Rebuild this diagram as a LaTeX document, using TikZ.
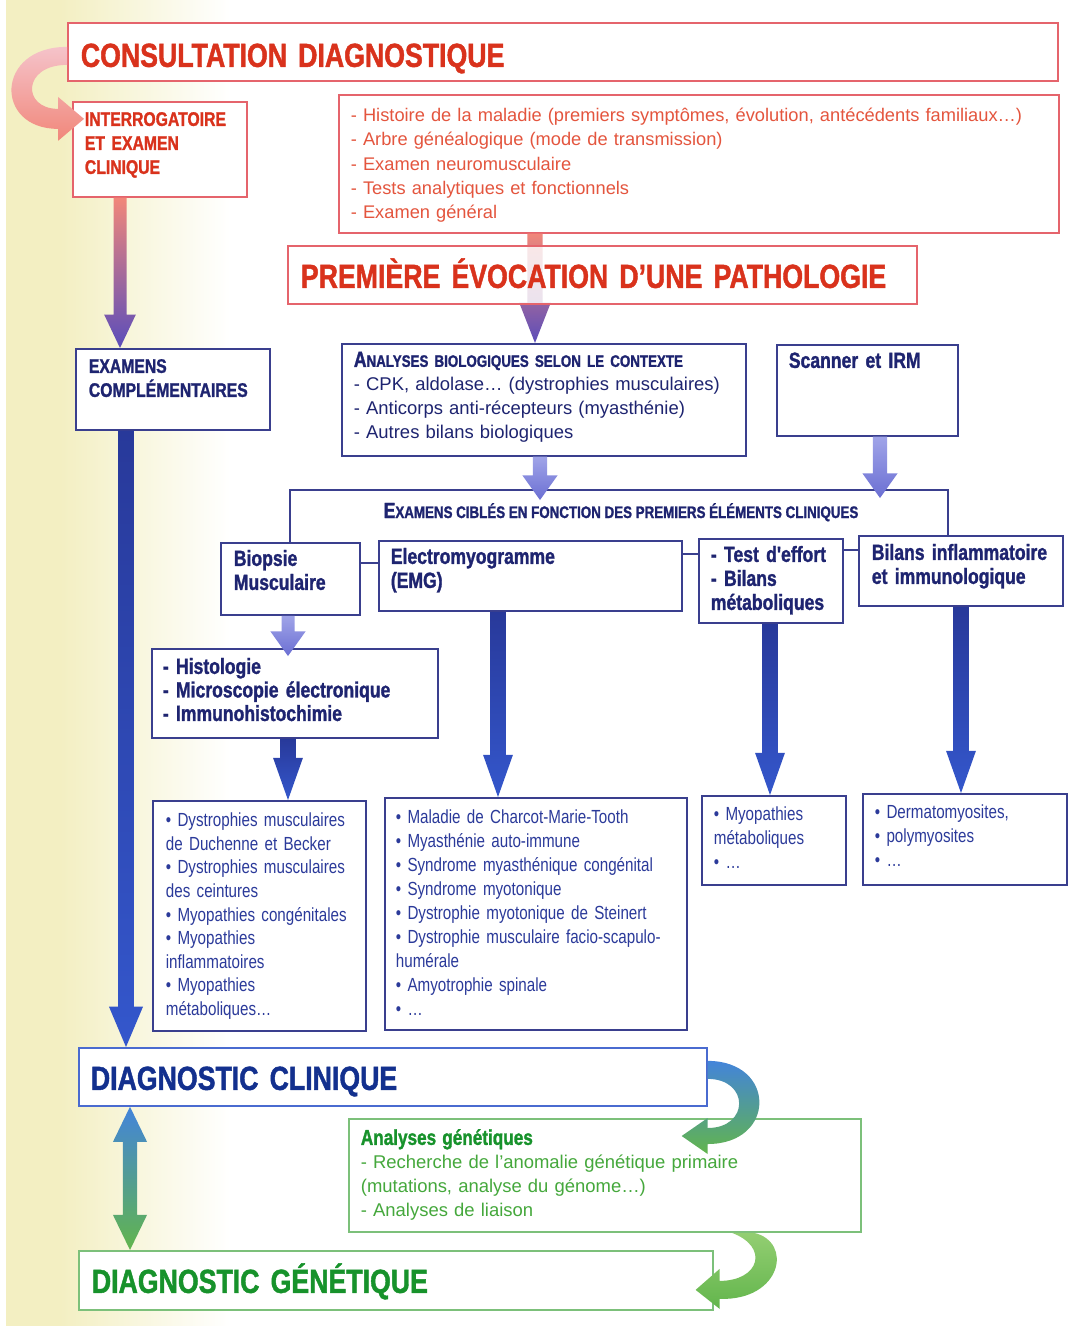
\documentclass[tikz,border=0pt]{standalone}
\usepackage{fontspec}
\setmainfont{Liberation Sans}
\newfontfamily\cond[FakeStretch=0.8]{Liberation Sans}
\newfontfamily\heavy[FakeStretch=0.8,BoldFeatures={FakeBold=1.3}]{Liberation Sans}
\usetikzlibrary{calc}

\definecolor{bgyel}{HTML}{F3EFC2}
\definecolor{redline}{HTML}{E5646C}
\definecolor{redtext}{HTML}{D9321C}
\definecolor{redlist}{HTML}{E4553E}
\definecolor{navyline}{HTML}{3A3F8E}
\definecolor{navytext}{HTML}{1E2470}
\definecolor{listblue}{HTML}{2B3A9A}
\definecolor{blueline}{HTML}{4A6BD0}
\definecolor{diagblue}{HTML}{13308E}
\definecolor{greenline}{HTML}{7CC07A}
\definecolor{greentext}{HTML}{17922B}
\definecolor{greenlist}{HTML}{45A83C}
\definecolor{salmon}{HTML}{F1877A}
\definecolor{pinklight}{HTML}{F5C3CA}
\definecolor{arrowpurple}{HTML}{5B4DBA}
\definecolor{lilac}{HTML}{A0A4E8}
\definecolor{periw}{HTML}{6B6FD3}
\definecolor{arrnavy}{HTML}{28399A}
\definecolor{arrblue}{HTML}{3457CC}
\definecolor{skyblue}{HTML}{4384DA}
\definecolor{leaf}{HTML}{62B54C}
\definecolor{leaflight}{HTML}{93CE72}

% block arrow: from, to, shaft half width, head half width, head length, top colour, bottom colour
\newcommand{\vblock}[7]{%
  \shade[top color=#6,bottom color=#7] let \p1=(#1), \p2=(#2) in
    (\x1-#3,\y1) -- (\x1+#3,\y1) -- (\x1+#3,\y2+#5) -- (\x1+#4,\y2+#5)
    -- (\x1,\y2) -- (\x1-#4,\y2+#5) -- (\x1-#3,\y2+#5) -- cycle;}
\newcommand{\petitcap}[1]{{\fontsize{9.5}{12}\selectfont #1}}

\tikzset{
  box/.style={draw, fill=white, line width=1pt, anchor=north west, inner ysep=0pt, align=left},
  redbox/.style={box, draw=redline},
  navybox/.style={box, draw=navyline},
  bluebox/.style={box, draw=blueline},
  greenbox/.style={box, draw=greenline},
  geom/.style n args={4}{text width=#1cm, inner xsep=#2cm, text height=#3cm, text depth=#4cm},
  bigtitle/.style={font=\heavy\bfseries\fontsize{19}{22}\selectfont},
  captitle/.style={font=\heavy\bfseries\fontsize{11.2}{13.66}\selectfont},
  headtxt/.style={font=\heavy\bfseries\fontsize{12.5}{13.66}\selectfont},
  plaintxt/.style={font=\fontsize{10.4}{13.7}\selectfont},
  listtxt/.style={font=\cond\fontsize{10.8}{13.4}\selectfont},
  thin/.style={draw=navyline, line width=1pt}
}

\begin{document}
\begin{tikzpicture}[x=0.02cm, y=-0.02cm]
  \useasboundingbox (0,0) rectangle (1068,1326);
  \fill[white] (0,0) rectangle (1068,1326);
  \fill[bgyel] (6,0) rectangle (60,1326);
  \shade[left color=bgyel, right color=white] (60,0) rectangle (230,1326);

  % consultation
  \node[redbox, geom={19.28}{.26}{.88}{.28}, bigtitle, text=redtext] (consult) at (67,22)
    {CONSULTATION DIAGNOSTIQUE};
  \node[redbox, geom={3.0}{.24}{.48}{1.42}, captitle, text=redtext] (interro) at (72,101)
    {INTERROGATOIRE\\ET EXAMEN\\CLINIQUE};
  \node[redbox, geom={13.92}{.24}{.54}{2.22}, plaintxt, text=redlist] (hist) at (338,94)
    {- Histoire de la maladie (premiers symptômes, évolution, antécédents familiaux…)\\
     - Arbre généalogique (mode de transmission)\\
     - Examen neuromusculaire\\
     - Tests analytiques et fonctionnels\\
     - Examen général};

  % examens
  \node[navybox, geom={3.36}{.26}{.48}{1.14}, captitle, text=navytext] (exam) at (75,348)
    {EXAMENS\\COMPLÉMENTAIRES};
  \node[navybox, geom={7.6}{.24}{.46}{1.78}, font=\fontsize{10.5}{13.66}\selectfont, text=navytext] (anal) at (341,343)
    {{\heavy\bfseries\fontsize{12.5}{13.66}\selectfont A\petitcap{NALYSES BIOLOGIQUES SELON LE CONTEXTE}}\\
     - CPK, aldolase… (dystrophies musculaires)\\
     - Anticorps anti-récepteurs (myasthénie)\\
     - Autres bilans biologiques};
  \node[navybox, geom={3.14}{.24}{.46}{1.36}, headtxt, text=navytext] (scan) at (776,344)
    {Scanner et IRM};

  % arrow through the pathology box
  \vblock{$(hist.south west)+(197,0)$}{anal.north}{4.3pt}{9pt}{23pt}{salmon}{arrowpurple}
  \node[redbox, geom={12.06}{.26}{.84}{.32}, bigtitle, text=redtext, fill opacity=0.82, text opacity=1] (prem) at (287,245)
    {PREMIÈRE ÉVOCATION D’UNE PATHOLOGIE};

  % examens cibles
  \node[navybox, geom={2.26}{.26}{.46}{.98}, headtxt, text=navytext] (biop) at (220,542)
    {Biopsie\\Musculaire};
  \node[navybox, geom={5.58}{.24}{.46}{.94}, headtxt, text=navytext] (emg) at (378,540)
    {Electromyogramme\\(EMG)};
  \node[navybox, geom={2.4}{.24}{.46}{1.22}, headtxt, text=navytext] (test) at (698,538)
    {- Test d'effort\\- Bilans\\métaboliques};
  \node[navybox, geom={3.56}{.26}{.48}{.92}, headtxt, text=navytext] (bil) at (858,535)
    {Bilans inflammatoire\\et immunologique};
  \node[headtxt, text=navytext, anchor=base, inner sep=0pt] (cible) at (621,518)
    {E\petitcap{XAMENS CIBLÉS EN FONCTION DES PREMIERS ÉLÉMENTS CLINIQUES}};
  \coordinate (bl) at (290,490);
  \coordinate (br) at (948,490);
  \draw[thin] (bl |- biop.north) -- (bl) -- (br) -- (br |- bil.north);
  \draw[thin] ($(biop.north east)+(0,21)$) -- ($(emg.north west)+(0,23)$);
  \draw[thin] ($(emg.north east)+(0,14)$) -- ($(test.north west)+(0,16)$);
  \draw[thin] ($(test.north east)+(0,12)$) -- ($(bil.north west)+(0,15)$);

  \node[navybox, geom={5.28}{.22}{.5}{1.28}, font=\heavy\bfseries\fontsize{12.5}{13.4}\selectfont, text=navytext] (histo) at (151,648)
    {- Histologie\\- Microscopie électronique\\- Immunohistochimie};

  % resultats
  \node[navybox, geom={3.74}{.26}{.52}{4.08}, listtxt, text=listblue] (dys) at (152,800)
    {• Dystrophies musculaires\\de Duchenne et Becker\\• Dystrophies musculaires\\des ceintures\\%
     • Myopathies congénitales\\• Myopathies\\inflammatoires\\• Myopathies\\métaboliques…};
  \node[navybox, geom={5.6}{.22}{.52}{4.12}, font=\cond\fontsize{10.8}{13.6}\selectfont, text=listblue] (mal) at (384,797)
    {• Maladie de Charcot-Marie-Tooth\\• Myasthénie auto-immune\\• Syndrome myasthénique congénital\\%
     • Syndrome myotonique\\• Dystrophie myotonique de Steinert\\• Dystrophie musculaire facio-scapulo-\\%
     humérale\\• Amyotrophie spinale\\• …};
  \node[navybox, geom={2.4}{.24}{.5}{1.28}, font=\cond\fontsize{10.8}{13.66}\selectfont, text=listblue] (myo) at (701,795)
    {• Myopathies\\métaboliques\\• …};
  \node[navybox, geom={3.6}{.24}{.5}{1.32}, font=\cond\fontsize{10.8}{13.66}\selectfont, text=listblue] (derm) at (862,793)
    {• Dermatomyosites,\\• polymyosites\\• …};

  % diagnostics
  \node[bluebox, geom={12.08}{.24}{.84}{.32}, bigtitle, text=diagblue] (diagc) at (78,1047)
    {DIAGNOSTIC CLINIQUE};
  \node[greenbox, geom={9.76}{.24}{.52}{1.74}, font=\fontsize{10.5}{13.66}\selectfont, text=greenlist] (gen) at (348,1118)
    {{\heavy\bfseries\fontsize{12.2}{13.66}\selectfont\color{greentext}Analyses génétiques}\\
     - Recherche de l’anomalie génétique primaire\\
     (mutations, analyse du génome…)\\
     - Analyses de liaison};
  \node[greenbox, geom={12.16}{.26}{.84}{.34}, bigtitle, text=greentext] (diagg) at (78,1250)
    {DIAGNOSTIC GÉNÉTIQUE};

  % fleches
  \shade[top color=pinklight, bottom color=salmon]
    ($(consult.west)+(0,-5)$) .. controls ($(consult.west)+(-72,-5)$) and ($(interro.west)+(-78,-20.5)$) .. ($(interro.west)+(-14,-20.5)$)
    -- ($(interro.west)+(-14,-8.5)$) -- ($(interro.west)+(12,-30.5)$) -- ($(interro.west)+(-14,-52.5)$) -- ($(interro.west)+(-14,-40.5)$)
    .. controls ($(interro.west)+(-50,-40.5)$) and ($(consult.west)+(-45,13)$) .. ($(consult.west)+(0,13)$) -- cycle;
  \vblock{$(interro.south west)+(48,0)$}{exam.north}{3.7pt}{9pt}{19pt}{salmon}{arrowpurple}
  \vblock{$(anal.south west)+(199,0)$}{$(bl)+(0,10)$}{4pt}{10pt}{14pt}{lilac}{periw}
  \vblock{$(scan.south west)+(104,0)$}{$(br)+(0,8)$}{4pt}{10pt}{14pt}{lilac}{periw}
  \vblock{$(biop.south west)+(68,0)$}{$(histo.north)+(0,8)$}{3.7pt}{10pt}{14pt}{lilac}{periw}
  \vblock{$(exam.south west)+(51,0)$}{diagc.north}{4.5pt}{9.7pt}{23pt}{arrnavy}{arrblue}
  \vblock{$(histo.south west)+(137,0)$}{dys.north}{4.5pt}{8.5pt}{24pt}{arrnavy}{arrblue}
  \vblock{$(emg.south west)+(120,0)$}{mal.north}{4.5pt}{8.5pt}{24pt}{arrnavy}{arrblue}
  \vblock{$(test.south west)+(72,0)$}{myo.north}{4.5pt}{8.5pt}{24pt}{arrnavy}{arrblue}
  \vblock{$(bil.south west)+(103,0)$}{derm.north}{4.5pt}{8.5pt}{24pt}{arrnavy}{arrblue}

  \shade[top color=skyblue, bottom color=leaf] let \p1=($(diagc.south west)+(52,0)$), \p2=(diagg.north) in
    (\x1,\y1) -- (\x1+9.7pt,\y1-20pt) -- (\x1+4pt,\y1-20pt) -- (\x1+4pt,\y2+20pt) -- (\x1+9.7pt,\y2+20pt)
    -- (\x1,\y2) -- (\x1-9.7pt,\y2+20pt) -- (\x1-4pt,\y2+20pt) -- (\x1-4pt,\y1-20pt) -- (\x1-9.7pt,\y1-20pt) -- cycle;
  \shade[top color=skyblue, bottom color=leaf]
    ($(diagc.east)+(0,-16)$) .. controls ($(diagc.east)+(69,-16)$) and ($(gen.north east)+(-85,26)$) .. ($(gen.north east)+(-154,26)$)
    -- ($(gen.north east)+(-154,36)$) -- ($(gen.north east)+(-180,18)$) -- ($(gen.north east)+(-154,0)$) -- ($(gen.north east)+(-154,10)$)
    .. controls ($(gen.north east)+(-112,10)$) and ($(diagc.east)+(42,2)$) .. ($(diagc.east)+(0,2)$) -- cycle;
  \shade[top color=leaflight, bottom color=leaf]
    ($(gen.south east)+(-108,0)$) .. controls ($(gen.south east)+(-68,9)$) and ($(diagg.east)+(68,20.5)$) .. ($(diagg.east)+(6,18.5)$)
    -- ($(diagg.east)+(6,28.5)$) -- ($(diagg.east)+(-18,9.5)$) -- ($(diagg.east)+(6,-11.5)$) -- ($(diagg.east)+(6,0.5)$)
    .. controls ($(diagg.east)+(46,0.5)$) and ($(gen.south east)+(-92,14)$) .. ($(gen.south east)+(-130,0)$) -- cycle;
\end{tikzpicture}
\end{document}
